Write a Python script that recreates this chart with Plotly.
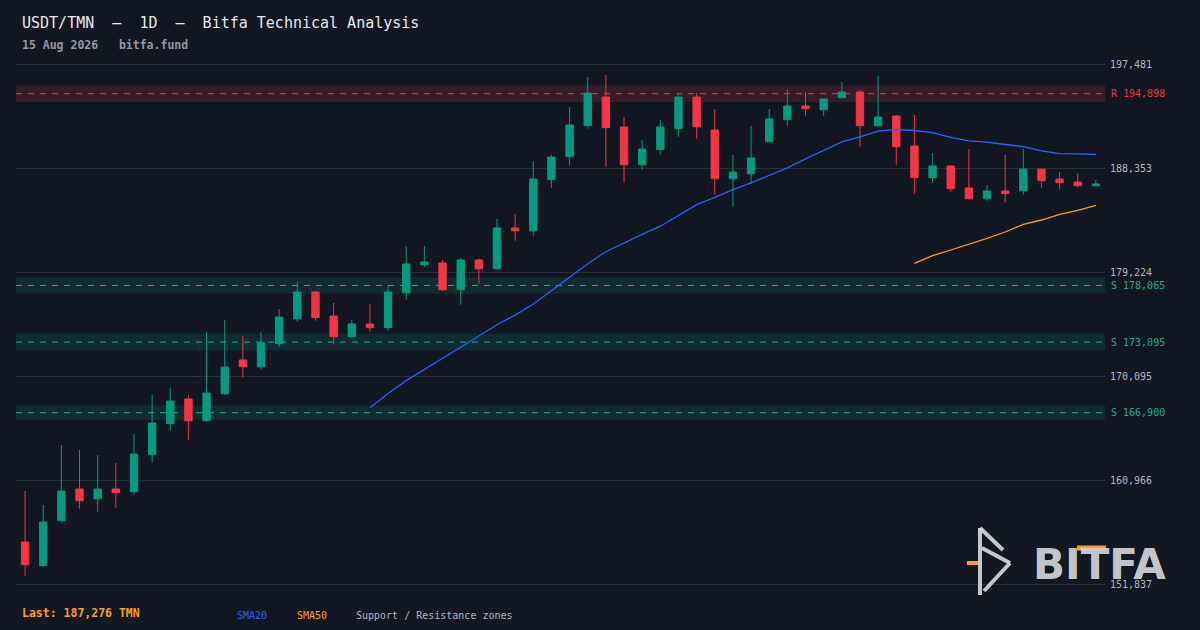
import plotly.graph_objects as go
import pandas as pd

# 60 daily candles ending on the report date
dates = pd.date_range(end="2026-08-15", periods=60, freq="D")

opens = [155549, 153468, 157418, 160201, 159349, 160201, 159964, 163212, 165933, 168101,
         166196, 168566, 171525, 170936, 172955, 175150, 177494, 175387, 173570, 174685,
         174360, 177432, 179890, 180039, 177694, 180303, 179539, 183112, 182874, 187351,
         189370, 192091, 194611, 191977, 188668, 189985, 191828, 194611, 191714, 187439,
         187878, 190687, 192618, 193821, 193496, 194549, 195050, 192091, 192943, 190309,
         187527, 188554, 186623, 185683, 186359, 186386, 188291, 187413, 187149, 186825]
highs = [160025, 158796, 164063, 163624, 163185, 162483, 165029, 168452, 169067, 168452,
         173982, 175036, 173631, 173982, 176001, 178371, 177581, 176528, 175036, 176440,
         178020, 181531, 181531, 180303, 180478, 180390, 183902, 184340, 188993, 189519,
         193733, 196366, 196542, 192855, 190836, 192592, 194962, 194962, 193557, 189519,
         192065, 193557, 195313, 195050, 194435, 195927, 195225, 196454, 193031, 193031,
         189695, 188642, 190046, 186886, 189519, 190046, 188291, 188027, 187939, 187325]
lows = [152590, 153380, 157243, 158472, 158208, 158559, 159701, 162509, 165319, 164528,
        166109, 168479, 169971, 170673, 172692, 174887, 174974, 172955, 173482, 174009,
        174097, 176818, 179714, 177581, 176379, 178222, 179451, 181997, 182436, 186649,
        188580, 191828, 188492, 187088, 188229, 189546, 191126, 190950, 186035, 184981,
        187000, 190687, 192091, 192969, 192969, 194461, 190248, 192004, 188668, 186122,
        187088, 186298, 185596, 185508, 185332, 186035, 186649, 186473, 186649, 186825]
closes = [153556, 157304, 160025, 159174, 160201, 159876, 163273, 165994, 167926, 166196,
          168628, 170910, 170936, 173043, 175299, 177494, 175238, 173570, 174685, 174360,
          177494, 179951, 180127, 177694, 180303, 179539, 183112, 182874, 187413, 189344,
          192153, 194962, 191916, 188668, 190046, 191977, 194611, 192004, 187439, 188027,
          189256, 192680, 193821, 193584, 194435, 195050, 192091, 192855, 190248, 187527,
          188554, 186561, 185683, 186359, 186122, 188291, 187263, 187088, 186825, 186974]

# moving averages as drawn (blank until enough history)
sma20 = [None] * 19 + [167337, 168584, 169716, 170717, 171647, 172648, 173631, 174623, 175466, 176440,
                       177599, 178775, 179978, 181031, 181812, 182550, 183270, 184244, 185166, 185798,
                       186482, 187070, 187711, 188396, 189186, 189897, 190669, 191117, 191617, 191758,
                       191670, 191486, 191064, 190757, 190643, 190441, 190257, 189888, 189642, 189616,
                       189563]
sma50 = [None] * 49 + [180013, 180680, 181180, 181681, 182207, 182760, 183436, 183814, 184314, 184665,
                       185104]

y_ticks = [197481, 188353, 179224, 170095, 160966, 151837]

zone_kind = ["R", "S", "S", "S"]
zone_level = [194898, 178065, 173095, 166900]
zone_half = [730, 730, 730, 640]

last_price = 187276

BG = "#131722"
GRID = "#2a2e39"
GREEN = "#089981"
RED = "#f23645"
TEAL = "#22ab94"
BLUE = "#2962ff"
ORANGE = "#f7a21b"
TXT = "#b2b5be"
MONO = "DejaVu Sans Mono"

# plot area in pixels (used to place the page texts)
L, R, T, B = 16, 1105, 58, 590


def px(x):
    return (x - L) / (R - L)


def py(y):
    return (B - y) / (B - T)


fig = go.Figure()

fig.add_trace(go.Candlestick(
    x=dates, open=opens, high=highs, low=lows, close=closes,
    increasing=dict(line=dict(color=GREEN, width=1), fillcolor=GREEN),
    decreasing=dict(line=dict(color=RED, width=1), fillcolor=RED),
    showlegend=False, hoverinfo="skip"))

fig.add_trace(go.Scatter(x=dates, y=sma20, mode="lines",
                         line=dict(color=BLUE, width=1.3), showlegend=False, hoverinfo="skip"))
fig.add_trace(go.Scatter(x=dates, y=sma50, mode="lines",
                         line=dict(color=ORANGE, width=1.3), showlegend=False, hoverinfo="skip"))

# support / resistance zones
for kind, lvl, hw in zip(zone_kind, zone_level, zone_half):
    col = RED if kind == "R" else TEAL
    fill = "rgba(242,54,69,0.16)" if kind == "R" else "rgba(8,153,129,0.16)"
    fig.add_shape(type="rect", xref="paper", yref="y", x0=0, x1=1, y0=lvl - hw, y1=lvl + hw,
                  fillcolor=fill, line_width=0, layer="below")
    fig.add_shape(type="line", xref="paper", yref="y", x0=0, x1=1, y0=lvl, y1=lvl,
                  line=dict(color=col, width=1, dash="6px,6px"), layer="below")
    fig.add_annotation(xref="paper", yref="y", x=1, y=lvl, xanchor="left", xshift=4,
                       text=f"{kind} {lvl:,}", showarrow=False,
                       font=dict(family=MONO, size=10, color=col))

# header
fig.add_annotation(xref="paper", yref="paper", x=px(20), y=py(23), xanchor="left", yanchor="middle",
                   text="USDT/TMN\u00a0\u00a0—\u00a0\u00a01D\u00a0\u00a0—\u00a0\u00a0Bitfa Technical Analysis",
                   showarrow=False, font=dict(family=MONO, size=15, color="#e6e8ee"))
fig.add_annotation(xref="paper", yref="paper", x=px(20), y=py(45), xanchor="left", yanchor="middle",
                   text="<b>15 Aug 2026\u00a0\u00a0\u00a0bitfa.fund</b>",
                   showarrow=False, font=dict(family=MONO, size=11.5, color="#9598a1"))

# footer
fig.add_annotation(xref="paper", yref="paper", x=px(20), y=py(613), xanchor="left", yanchor="middle",
                   text=f"<b>Last: {last_price:,} TMN</b>", showarrow=False,
                   font=dict(family=MONO, size=11.5, color=ORANGE))
for label, xpos, col in [("SMA20", 235, BLUE), ("SMA50", 295, ORANGE),
                         ("Support / Resistance zones", 354, TXT)]:
    fig.add_annotation(xref="paper", yref="paper", x=px(xpos), y=py(615), xanchor="left",
                       yanchor="middle", text=label, showarrow=False,
                       font=dict(family=MONO, size=10, color=col))

# logo
LOGO = "rgba(214,214,220,0.92)"
fig.add_annotation(xref="paper", yref="paper", x=px(1099), y=py(564), xanchor="center",
                   yanchor="middle", text="<b>BITFA</b>", showarrow=False,
                   font=dict(family="DejaVu Sans", size=42, color=LOGO))
fig.add_shape(type="rect", xref="paper", yref="paper", x0=px(1077), x1=px(1106),
              y0=py(550.5), y1=py(545.5), fillcolor=ORANGE, line_width=0)
for (xa, ya, xb, yb) in [(980, 528, 980, 595), (980, 528, 1003, 550),
                         (982, 548, 1010, 563), (1010, 563, 984, 591)]:
    fig.add_shape(type="line", xref="paper", yref="paper", x0=px(xa), y0=py(ya), x1=px(xb), y1=py(yb),
                  line=dict(color=LOGO, width=4))
fig.add_shape(type="line", xref="paper", yref="paper", x0=px(967), y0=py(563), x1=px(978), y1=py(563),
              line=dict(color=ORANGE, width=4))

fig.update_layout(
    width=1200, height=630,
    margin=dict(l=L, r=1200 - R, t=T, b=630 - B),
    paper_bgcolor=BG, plot_bgcolor=BG,
    boxgap=0.42,
    showlegend=False,
    xaxis=dict(rangeslider=dict(visible=False), showgrid=False, zeroline=False,
               showticklabels=False, showline=False,
               range=[dates[0] - pd.Timedelta(hours=12), dates[-1] + pd.Timedelta(hours=12)]),
    yaxis=dict(side="right", range=[151335, 198034], tickvals=y_ticks, tickformat=",d",
               showgrid=True, gridcolor=GRID, gridwidth=1, zeroline=False, showline=False,
               ticks="", ticklabelstandoff=4,
               tickfont=dict(family=MONO, size=10, color=TXT)),
)

# the page's default body margin would shift the figure by 8px
fig.write_html("out.html", config={"displayModeBar": False},
               post_script="document.body.style.margin='0';document.body.style.background='#131722';")
